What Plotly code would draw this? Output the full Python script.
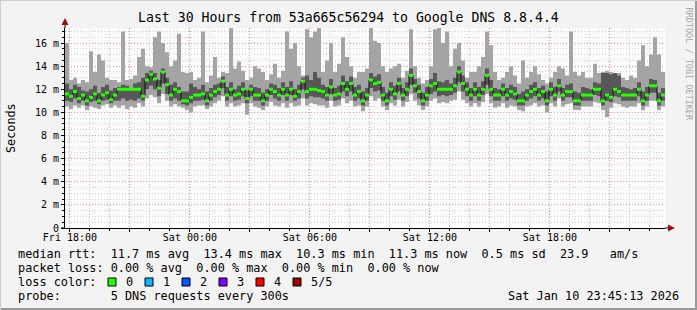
import plotly.graph_objects as go
import pandas as pd

# ---------------- data (ms), 12-minute steps, 150 samples ----------------
start_time = "2026-01-09 17:45:13"
end_time = "2026-01-10 23:45:13"
step_minutes = 12

median = [
    11.6, 11.4, 11.8, 11.2, 11.5, 11.0, 11.3, 11.6, 11.0, 11.5, 11.7, 11.1, 11.5, 12.0, 12.0, 12.0, 12.0, 12.0, 12.0, 11.4, 12.8, 13.3, 12.9, 12.1, 13.5, 12.4, 11.5, 12.0, 11.8, 11.0,
    11.0, 11.3, 11.5, 11.5, 11.6, 11.0, 11.5, 11.8, 12.0, 12.7, 11.5, 12.0, 11.5, 11.6, 12.0, 11.2, 12.0, 11.5, 11.5, 11.0, 11.5, 12.0, 11.8, 11.5, 12.0, 11.5, 12.0, 11.4, 11.8, 12.7,
    11.8, 12.0, 12.0, 11.9, 11.8, 11.5, 12.2, 11.5, 11.6, 12.5, 12.0, 12.5, 11.5, 11.8, 11.0, 11.5, 12.8, 12.5, 12.6, 11.5, 11.0, 12.0, 11.6, 12.5, 11.5, 12.0, 13.2, 12.3, 11.8, 11.0,
    11.5, 12.3, 12.5, 12.0, 12.0, 12.0, 12.0, 12.3, 13.5, 12.5, 12.0, 11.5, 12.0, 11.5, 12.0, 13.2, 12.0, 11.5, 11.5, 12.0, 11.5, 11.8, 11.6, 11.0, 11.0, 11.5, 11.8, 12.0, 11.5, 11.8,
    11.0, 12.0, 11.5, 12.3, 11.5, 11.8, 11.8, 11.0, 11.0, 11.5, 11.5, 11.5, 12.0, 12.0, 11.0, 11.5, 11.3, 12.0, 11.8, 11.5, 11.5, 11.5, 11.5, 12.0, 11.0, 11.5, 12.3, 12.3, 11.0, 11.5,
]
ping_max = [
    16.0, 12.8, 13.0, 12.5, 12.8, 12.6, 15.3, 13.5, 15.0, 14.5, 13.0, 12.8, 12.8, 12.6, 17.0, 12.8, 12.9, 13.2, 14.8, 15.5, 14.0, 13.9, 16.5, 17.0, 16.0, 15.2, 14.0, 14.5, 16.8, 13.5,
    13.4, 13.5, 12.8, 13.0, 17.0, 12.6, 13.2, 14.8, 13.0, 13.5, 13.4, 17.4, 13.8, 14.4, 13.6, 12.8, 13.0, 14.0, 13.8, 13.5, 12.8, 13.3, 14.2, 13.0, 13.6, 17.0, 15.5, 16.0, 14.0, 13.2,
    17.2, 16.5, 17.0, 17.3, 13.5, 14.5, 16.0, 13.5, 14.2, 16.5, 14.8, 14.0, 13.0, 13.5, 13.5, 13.8, 17.3, 16.2, 16.0, 14.0, 13.5, 13.8, 14.0, 14.2, 13.0, 13.6, 17.2, 14.0, 13.0, 12.5,
    12.8, 14.0, 17.2, 17.3, 16.0, 17.0, 14.0, 15.5, 16.0, 14.5, 13.0, 13.5, 13.5, 14.0, 14.8, 17.0, 15.8, 13.5, 12.8, 13.0, 13.5, 14.0, 13.2, 12.5, 14.5, 13.0, 13.5, 14.0, 13.3, 12.8,
    12.5, 13.0, 13.5, 14.0, 13.8, 13.2, 17.0, 13.5, 13.2, 13.5, 13.0, 13.0, 14.2, 13.4, 13.5, 13.6, 13.5, 13.4, 13.4, 13.0, 12.8, 13.2, 13.0, 14.5, 15.8, 14.0, 15.0, 16.5, 15.0, 13.5,
]
ping_upper = [
    12.5, 12.0, 12.4, 12.2, 11.9, 11.8, 12.0, 12.3, 11.7, 12.2, 12.4, 11.9, 12.1, 12.2, 12.4, 12.3, 12.1, 12.5, 12.6, 13.0, 13.4, 13.6, 13.4, 12.8, 13.8, 13.0, 12.4, 12.6, 12.2, 11.8,
    11.8, 12.5, 12.2, 12.0, 12.4, 11.8, 12.1, 12.4, 12.5, 13.1, 12.2, 12.6, 12.0, 12.3, 12.6, 11.9, 12.4, 12.2, 12.1, 11.7, 12.0, 12.5, 12.4, 12.1, 12.6, 12.2, 12.7, 12.0, 12.4, 13.0,
    13.2, 12.8, 13.5, 13.0, 12.4, 12.2, 12.9, 12.1, 12.3, 13.2, 12.7, 13.1, 12.2, 12.4, 11.8, 12.1, 13.4, 13.1, 13.3, 12.2, 11.7, 12.6, 12.3, 13.0, 12.1, 12.6, 13.8, 12.9, 12.4, 11.7,
    12.2, 12.9, 13.4, 12.7, 12.6, 12.8, 12.5, 13.0, 14.0, 13.2, 12.6, 12.1, 12.6, 12.2, 12.7, 13.8, 12.8, 12.1, 12.0, 12.5, 12.1, 12.4, 12.2, 11.6, 11.8, 12.0, 12.4, 12.6, 12.1, 12.3,
    11.8, 12.6, 12.2, 12.9, 12.1, 12.4, 12.5, 11.8, 11.7, 12.2, 12.1, 12.0, 12.6, 12.5, 13.4, 13.4, 13.3, 13.4, 13.2, 12.2, 12.1, 12.0, 12.1, 12.6, 11.8, 12.2, 12.9, 12.8, 11.7, 12.1,
]
ping_lower = [
    11.0, 10.9, 11.2, 10.8, 11.0, 10.6, 10.9, 11.0, 10.7, 11.0, 11.1, 10.8, 11.0, 11.0, 11.2, 11.0, 11.1, 11.0, 11.2, 11.0, 12.0, 12.3, 12.0, 11.4, 12.5, 11.6, 11.0, 11.2, 11.0, 10.7,
    10.6, 10.8, 11.0, 11.0, 11.1, 10.6, 11.0, 11.3, 11.5, 12.1, 11.0, 11.4, 11.0, 11.1, 11.4, 10.8, 11.4, 11.0, 11.0, 10.6, 11.0, 11.5, 11.2, 11.0, 11.5, 11.0, 11.5, 11.0, 11.2, 12.0,
    11.2, 11.4, 11.3, 11.3, 11.2, 11.0, 11.6, 11.0, 11.1, 11.8, 11.4, 11.8, 11.0, 11.2, 10.6, 11.0, 12.1, 11.8, 11.9, 11.0, 10.6, 11.4, 11.1, 11.8, 11.0, 11.4, 12.4, 11.7, 11.2, 10.6,
    11.0, 11.6, 11.8, 11.4, 11.5, 11.4, 11.5, 11.7, 12.6, 11.8, 11.4, 11.0, 11.4, 11.0, 11.5, 12.4, 11.4, 11.0, 11.0, 11.4, 11.0, 11.2, 11.1, 10.6, 10.6, 11.0, 11.2, 11.4, 11.0, 11.2,
    10.6, 11.4, 11.0, 11.8, 11.0, 11.3, 11.3, 10.6, 10.6, 11.0, 11.0, 11.0, 11.5, 11.4, 10.6, 11.0, 10.9, 11.4, 11.3, 11.0, 11.0, 11.0, 11.0, 11.4, 10.6, 11.0, 11.7, 11.7, 10.6, 11.0,
]
ping_min = [
    10.5, 10.3, 10.6, 10.4, 10.6, 10.2, 10.5, 10.4, 10.3, 10.6, 10.7, 10.4, 10.6, 10.4, 10.6, 10.3, 10.5, 10.4, 10.8, 10.5, 11.2, 11.5, 11.3, 10.8, 11.6, 11.0, 10.5, 10.7, 10.5, 10.4,
    10.2, 10.0, 10.5, 10.6, 10.6, 10.3, 10.5, 10.8, 11.0, 11.4, 10.5, 10.8, 10.5, 10.6, 10.8, 9.8, 10.8, 10.5, 10.4, 10.2, 10.5, 10.9, 10.6, 10.5, 10.8, 10.4, 10.8, 10.5, 10.6, 11.2,
    10.6, 10.8, 10.7, 10.6, 10.6, 10.4, 11.0, 10.5, 10.6, 11.2, 10.8, 11.0, 10.5, 10.6, 10.1, 10.5, 11.4, 11.0, 11.2, 10.5, 10.2, 10.8, 10.6, 11.1, 10.5, 10.9, 11.6, 11.0, 10.6, 10.2,
    10.5, 11.0, 11.2, 10.8, 10.9, 10.8, 11.0, 11.1, 11.8, 11.1, 10.8, 10.5, 10.8, 10.5, 10.9, 11.6, 10.8, 10.4, 10.5, 10.8, 10.4, 10.6, 10.5, 10.2, 10.1, 10.5, 10.6, 10.8, 10.5, 10.6,
    10.0, 10.8, 10.5, 11.2, 10.5, 10.7, 10.8, 10.2, 10.2, 10.5, 10.5, 10.5, 10.9, 10.8, 10.2, 9.6, 10.4, 10.8, 10.7, 10.5, 10.4, 10.5, 10.5, 10.8, 10.2, 10.5, 11.0, 11.0, 10.2, 10.5,
]

y_tick_values = [0, 2, 4, 6, 8, 10, 12, 14, 16]
y_tick_labels = ["0", "2 m", "4 m", "6 m", "8 m", "10 m", "12 m", "14 m", "16 m"]
x_tick_values = ["2026-01-09 18:00", "2026-01-09 21:00", "2026-01-10 00:00", "2026-01-10 03:00",
                 "2026-01-10 06:00", "2026-01-10 09:00", "2026-01-10 12:00", "2026-01-10 15:00",
                 "2026-01-10 18:00", "2026-01-10 21:00"]
x_tick_labels = ["Fri 18:00", "", "Sat 00:00", "", "Sat 06:00", "", "Sat 12:00", "", "Sat 18:00", ""]

loss_labels = ["0", "1", "2", "3", "4", "5/5"]
loss_colors = ["#26ff00", "#00b8ff", "#0059ff", "#7e00ff", "#ff0000", "#a10000"]

title_text = "Last 30 Hours from 53a665c56294 to Google DNS 8.8.4.4"
legend_lines = [
    "median rtt:  11.7 ms avg  13.4 ms max  10.3 ms min  11.3 ms now  0.5 ms sd  23.9   am/s",
    "packet loss: 0.00 % avg  0.00 % max  0.00 % min  0.00 % now",
    "loss color:",
    "probe:       5 DNS requests every 300s",
]
timestamp_text = "Sat Jan 10 23:45:13 2026"

# ---------------- geometry ----------------
W, H = 697, 310
L, R, T, B = 65, 665, 28, 228
PW, PH = R - L, B - T
MONO = "DejaVu Sans Mono"


def px(x):
    return (x - L) / PW


def py(y):
    return (B - y) / PH


n = len(median)
times = pd.date_range(start_time, periods=n + 1, freq=f"{step_minutes}min")
x_edges = list(times)


def ext(v):
    return list(v) + [v[-1]]


fig = go.Figure()
LIGHT = "#a4a4a4"
DARK = "#585858"

fig.add_trace(go.Scatter(x=x_edges, y=ext(ping_min), mode="lines", line=dict(width=0, shape="hv"),
                         hoverinfo="skip", showlegend=False))
fig.add_trace(go.Scatter(x=x_edges, y=ext(ping_max), mode="lines", line=dict(width=0, shape="hv"),
                         fill="tonexty", fillcolor=LIGHT, hoverinfo="skip", showlegend=False))
fig.add_trace(go.Scatter(x=x_edges, y=ext(ping_lower), mode="lines", line=dict(width=0, shape="hv"),
                         hoverinfo="skip", showlegend=False))
fig.add_trace(go.Scatter(x=x_edges, y=ext(ping_upper), mode="lines", line=dict(width=0, shape="hv"),
                         fill="tonexty", fillcolor=DARK, hoverinfo="skip", showlegend=False))
# median black step line
fig.add_trace(go.Scatter(x=x_edges, y=ext(median), mode="lines", line=dict(width=1, shape="hv", color="#101010"),
                         hoverinfo="skip", showlegend=False))
# median green segments (loss 0)
gx, gy = [], []
for i, m in enumerate(median):
    gx += [times[i], times[i + 1], None]
    gy += [m, m, None]
fig.add_trace(go.Scatter(x=gx, y=gy, mode="lines", line=dict(width=3, color=loss_colors[0]),
                         connectgaps=False, hoverinfo="skip", showlegend=False))

MAJ = "rgba(255,120,120,0.75)"
MIN = "rgba(175,175,175,0.55)"

fig.update_layout(
    width=W, height=H,
    margin=dict(l=L, r=W - R, t=T, b=H - B, pad=0),
    paper_bgcolor="#f3f3f3", plot_bgcolor="#ffffff",
    showlegend=False,
    font=dict(family=MONO, size=10, color="#000000"),
    xaxis=dict(
        type="date", range=[start_time, end_time],
        tickmode="array", tickvals=x_tick_values, ticktext=x_tick_labels,
        showgrid=True, gridcolor=MAJ, griddash="1px,2px", gridwidth=1,
        ticks="outside", ticklen=3, tickcolor="#000000", ticklabelstandoff=-3,
        tickfont=dict(family=MONO, size=10, color="#000000"),
        showline=True, linecolor="#000000", linewidth=1,
        zeroline=False, layer="above traces",
        minor=dict(tickmode="linear", tick0="2026-01-09 18:00", dtick=3600000,
                   showgrid=True, gridcolor=MIN, griddash="1px,2px", ticks="outside", ticklen=2, tickcolor="#000000"),
    ),
    yaxis=dict(
        range=[0, PH / 11.56],
        tickmode="array", tickvals=y_tick_values, ticktext=y_tick_labels,
        showgrid=True, gridcolor=MAJ, griddash="1px,2px", gridwidth=1,
        ticks="outside", ticklen=3, tickcolor="#000000",
        tickfont=dict(family=MONO, size=10, color="#000000"),
        showline=True, linecolor="#000000", linewidth=1,
        zeroline=False, layer="above traces",
        minor=dict(tickmode="linear", tick0=0, dtick=0.5,
                   showgrid=True, gridcolor=MIN, griddash="1px,2px", ticks="outside", ticklen=2, tickcolor="#000000"),
    ),
)

ann = []
ann.append(dict(text=title_text, x=px(348), y=py(18), xref="paper", yref="paper", showarrow=False,
                xanchor="center", yanchor="middle", font=dict(family=MONO, size=13.2, color="#000000")))
ann.append(dict(text="Seconds", x=px(11), y=py(128), xref="paper", yref="paper", showarrow=False,
                textangle=-90, xanchor="center", yanchor="middle", font=dict(family=MONO, size=11.8, color="#000000")))
ann.append(dict(text="RRDTOOL / TOBI OETIKER", x=px(689), y=py(5), xref="paper", yref="paper", showarrow=False,
                textangle=90, xanchor="center", yanchor="top", font=dict(family=MONO, size=8.5, color="#a8a8a8")))
line_y = [254, 268, 282, 296]
for txt, yy in zip(legend_lines, line_y):
    ann.append(dict(text=txt.replace(" ", "\u00a0"), x=px(16), y=py(yy), xref="paper", yref="paper",
                    showarrow=False, xanchor="left", yanchor="middle",
                    font=dict(family=MONO, size=11.85, color="#000000")))
ann.append(dict(text=timestamp_text.replace(" ", "\u00a0"), x=px(681), y=py(296), xref="paper", yref="paper",
                showarrow=False, xanchor="right", yanchor="middle",
                font=dict(family=MONO, size=11.85, color="#000000")))

shapes = []
box_x = [108, 145, 182, 219, 256, 293]
for lbl, col, bx in zip(loss_labels, loss_colors, box_x):
    shapes.append(dict(type="rect", xref="paper", yref="paper", x0=px(bx), x1=px(bx + 8),
                       y0=py(286), y1=py(278), fillcolor=col, line=dict(color="#000000", width=1)))
    ann.append(dict(text=lbl, x=px(bx + 16), y=py(282), xref="paper", yref="paper", showarrow=False,
                    xanchor="left", yanchor="middle", font=dict(family=MONO, size=11.85, color="#000000")))

# axis extensions and arrows
shapes.append(dict(type="line", xref="paper", yref="paper", x0=px(L), x1=px(L), y0=py(T), y1=py(21),
                   line=dict(color="#000000", width=1)))
shapes.append(dict(type="line", xref="paper", yref="paper", x0=px(R), x1=px(670), y0=py(B), y1=py(B),
                   line=dict(color="#000000", width=1)))
shapes.append(dict(type="line", xref="paper", yref="paper", x0=px(61), x1=px(L), y0=py(B), y1=py(B),
                   line=dict(color="#000000", width=1)))
shapes.append(dict(type="path", xref="paper", yref="paper",
                   path=f"M {px(L-3.5)},{py(25)} L {px(L+3.5)},{py(25)} L {px(L)},{py(18)} Z",
                   fillcolor="#9b1010", line=dict(width=0)))
shapes.append(dict(type="path", xref="paper", yref="paper",
                   path=f"M {px(668)},{py(B-3.5)} L {px(668)},{py(B+3.5)} L {px(675)},{py(B)} Z",
                   fillcolor="#9b1010", line=dict(width=0)))
# frame border
shapes.append(dict(type="line", xref="paper", yref="paper", x0=px(0), x1=px(W), y0=py(H - 1), y1=py(H - 1),
                   line=dict(color="#9a9a9a", width=2)))
shapes.append(dict(type="line", xref="paper", yref="paper", x0=px(W - 1), x1=px(W - 1), y0=py(0), y1=py(H),
                   line=dict(color="#9a9a9a", width=2)))
shapes.append(dict(type="line", xref="paper", yref="paper", x0=px(0), x1=px(W), y0=py(0.5), y1=py(0.5),
                   line=dict(color="#cfcfcf", width=1)))
shapes.append(dict(type="line", xref="paper", yref="paper", x0=px(0.5), x1=px(0.5), y0=py(0), y1=py(H),
                   line=dict(color="#cfcfcf", width=1)))

fig.update_layout(annotations=ann, shapes=shapes)
fig.write_html("out.html")
